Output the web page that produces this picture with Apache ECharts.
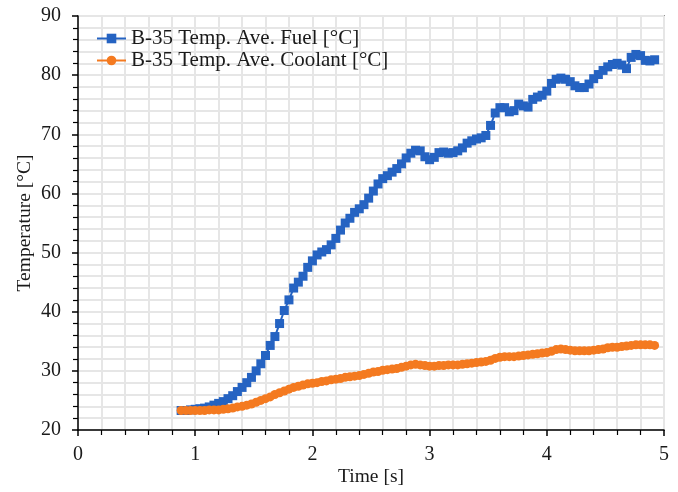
<!DOCTYPE html>
<html>
<head>
<meta charset="utf-8">
<script src="https://cdn.jsdelivr.net/npm/echarts/dist/echarts.min.js"></script>
<style>
  html, body { margin: 0; padding: 0; background: #fff; }
  #chart { width: 678px; height: 492px; }
</style>
</head>
<body>
<div id="chart"></div>
<script>
// time samples [s]
var timeS = [
  0.88, 0.92, 0.96, 1.00, 1.04, 1.08, 1.12, 1.16, 1.20, 1.24,
  1.28, 1.32, 1.36, 1.40, 1.44, 1.48, 1.52, 1.56, 1.60, 1.64,
  1.68, 1.72, 1.76, 1.80, 1.84, 1.88, 1.92, 1.96, 2.00, 2.04,
  2.08, 2.12, 2.16, 2.20, 2.24, 2.28, 2.32, 2.36, 2.40, 2.44,
  2.48, 2.52, 2.56, 2.60, 2.64, 2.68, 2.72, 2.76, 2.80, 2.84,
  2.88, 2.92, 2.96, 3.00, 3.04, 3.08, 3.12, 3.16, 3.20, 3.24,
  3.28, 3.32, 3.36, 3.40, 3.44, 3.48, 3.52, 3.56, 3.60, 3.64,
  3.68, 3.72, 3.76, 3.80, 3.84, 3.88, 3.92, 3.96, 4.00, 4.04,
  4.08, 4.12, 4.16, 4.20, 4.24, 4.28, 4.32, 4.36, 4.40, 4.44,
  4.48, 4.52, 4.56, 4.60, 4.64, 4.68, 4.72, 4.76, 4.80, 4.84,
  4.88, 4.92
];

// B-35 average fuel temperature [°C]
var fuelTemp = [
  23.3, 23.3, 23.4, 23.5, 23.6, 23.7, 23.9, 24.2, 24.5, 24.8,
  25.3, 25.8, 26.5, 27.2, 28.0, 28.9, 30.0, 31.2, 32.6, 34.3,
  35.8, 38.0, 40.2, 42.0, 44.0, 45.0, 46.0, 47.5, 48.6, 49.6,
  50.1, 50.5, 51.3, 52.4, 53.8, 55.0, 55.8, 56.8, 57.4, 58.1,
  59.2, 60.4, 61.6, 62.5, 63.0, 63.6, 64.2, 65.0, 66.0, 66.8,
  67.3, 67.2, 66.2, 65.7, 66.1, 66.9, 67.0, 66.8, 66.9, 67.2,
  67.7, 68.5, 68.9, 69.2, 69.4, 69.8, 71.5, 73.6, 74.5, 74.5,
  73.8, 74.0, 75.1, 74.8, 74.6, 75.9, 76.3, 76.6, 77.3, 78.6,
  79.3, 79.5, 79.3, 78.9, 78.2, 77.9, 77.9, 78.5, 79.4, 80.1,
  80.8, 81.4, 81.8, 82.0, 81.7, 81.1, 83.0, 83.5, 83.3, 82.5,
  82.4, 82.6
];

// B-35 average coolant temperature [°C]
var coolantTemp = [
  23.3, 23.3, 23.3, 23.3, 23.3, 23.3, 23.4, 23.4, 23.4, 23.5,
  23.6, 23.7, 23.9, 24.0, 24.2, 24.4, 24.7, 25.0, 25.3, 25.6,
  26.0, 26.3, 26.6, 26.9, 27.2, 27.4, 27.6, 27.8, 27.9, 28.0,
  28.2, 28.3, 28.5, 28.6, 28.7, 28.9, 29.0, 29.1, 29.2, 29.4,
  29.6, 29.8, 29.9, 30.1, 30.2, 30.3, 30.4, 30.6, 30.8, 31.0,
  31.1, 31.0, 30.9, 30.8, 30.8, 30.9, 30.9, 31.0, 31.0, 31.0,
  31.1, 31.2, 31.3, 31.4, 31.5, 31.6, 31.8, 32.1, 32.3, 32.4,
  32.4, 32.4, 32.5, 32.6, 32.7, 32.8, 32.9, 33.0, 33.1, 33.3,
  33.6, 33.7, 33.6, 33.5, 33.4, 33.4, 33.4, 33.4, 33.5, 33.6,
  33.7, 33.9, 34.0, 34.0, 34.1, 34.2, 34.3, 34.4, 34.4, 34.4,
  34.4, 34.3
];

var xTicks = [0, 1, 2, 3, 4, 5];
var yTicks = [20, 30, 40, 50, 60, 70, 80, 90];

var seriesNames = ['B-35 Temp. Ave. Fuel [°C]', 'B-35 Temp. Ave. Coolant [°C]'];

function pairs(ys) {
  return timeS.map(function (t, i) { return [t, ys[i]]; });
}

var serif = '"Liberation Serif", "Times New Roman", serif';
var gridLine = { show: true, lineStyle: { color: '#e6e6e6', width: 2 } };

var option = {
  animation: false,
  backgroundColor: '#fff',
  textStyle: { fontFamily: serif, color: '#1a1a1a' },
  grid: {
    left: 78, right: 14, top: 16, bottom: 61,
    show: true, borderColor: '#444', borderWidth: 1.5
  },
  legend: {
    orient: 'vertical',
    left: 91, top: 23,
    itemWidth: 29, itemHeight: 12, itemGap: 1,
    textStyle: { fontFamily: serif, fontSize: 21, color: '#1a1a1a' },
    data: seriesNames
  },
  xAxis: {
    type: 'value',
    min: xTicks[0], max: xTicks[xTicks.length - 1], interval: 1,
    name: 'Time [s]', nameLocation: 'middle', nameGap: 37,
    nameMoveOverlap: false,
    nameTextStyle: { fontFamily: serif, fontSize: 19.5, color: '#1a1a1a' },
    axisLine: { onZero: false, lineStyle: { color: '#000', width: 1.5 } },
    axisTick: { show: true, length: 6, lineStyle: { color: '#000', width: 1.5 } },
    minorTick: { show: true, splitNumber: 5, length: 5, lineStyle: { color: '#000', width: 1.2 } },
    axisLabel: { fontFamily: serif, fontSize: 20, color: '#1a1a1a', margin: 15 },
    splitLine: gridLine,
    minorSplitLine: gridLine
  },
  yAxis: {
    type: 'value',
    min: yTicks[0], max: yTicks[yTicks.length - 1], interval: 10,
    name: 'Temperature [°C]', nameLocation: 'middle', nameGap: 43,
    nameMoveOverlap: false,
    nameTextStyle: { fontFamily: serif, fontSize: 19.5, color: '#1a1a1a' },
    axisLine: { show: true, onZero: false, lineStyle: { color: '#000', width: 1.5 } },
    axisTick: { show: true, length: 6, lineStyle: { color: '#000', width: 1.5 } },
    minorTick: { show: true, splitNumber: 5, length: 5, lineStyle: { color: '#000', width: 1.2 } },
    axisLabel: { fontFamily: serif, fontSize: 20, color: '#1a1a1a', margin: 17 },
    splitLine: gridLine,
    minorSplitLine: gridLine
  },
  series: [
    {
      name: seriesNames[0],
      type: 'line',
      data: pairs(fuelTemp),
      symbol: 'rect',
      symbolSize: 9,
      showAllSymbol: true,
      color: '#2563c2',
      lineStyle: { width: 2, color: '#2563c2' },
      itemStyle: { color: '#2563c2' }
    },
    {
      name: seriesNames[1],
      type: 'line',
      data: pairs(coolantTemp),
      symbol: 'circle',
      symbolSize: 9,
      showAllSymbol: true,
      color: '#f47a20',
      lineStyle: { width: 2, color: '#f47a20' },
      itemStyle: { color: '#f47a20' }
    }
  ]
};

var myChart = echarts.init(document.getElementById('chart'));
myChart.setOption(option);
</script>
</body>
</html>
